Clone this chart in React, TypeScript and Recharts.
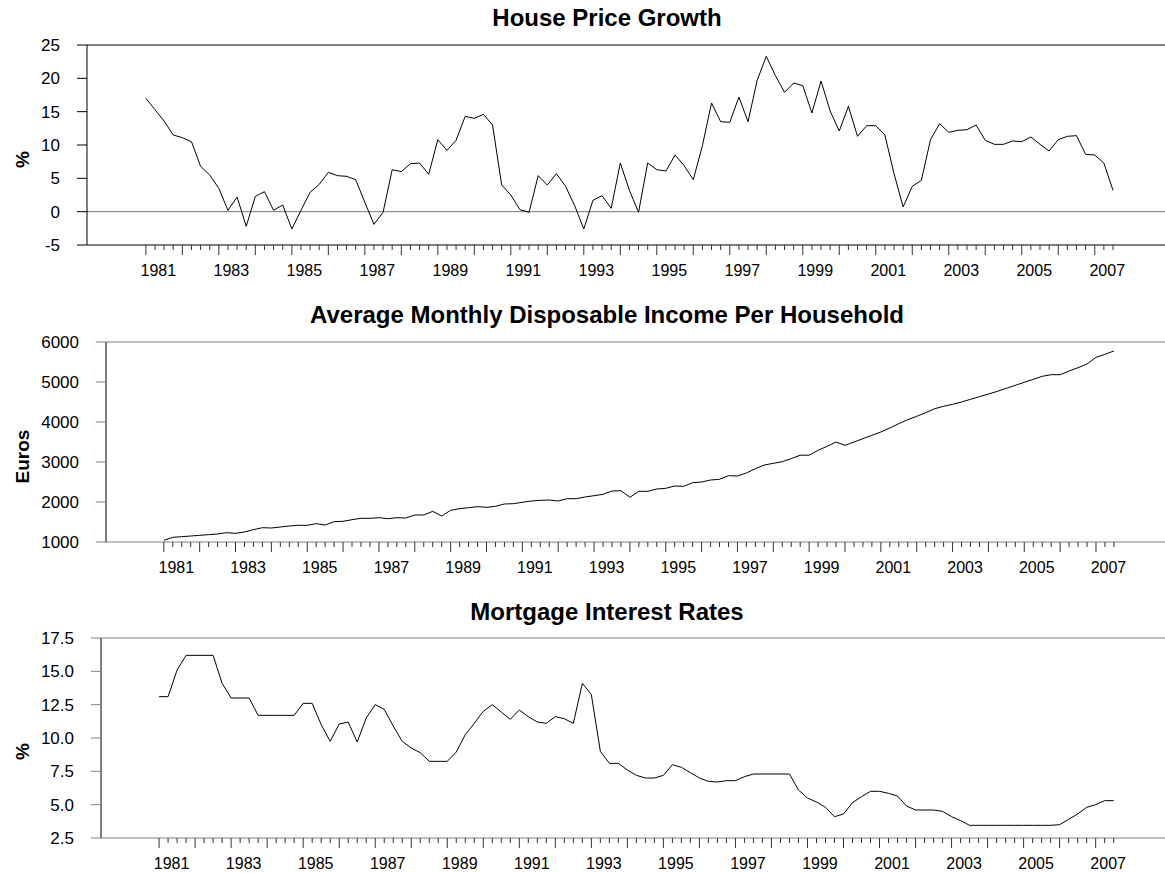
import { LineChart, Line, XAxis, YAxis, ReferenceLine } from 'recharts';

const FONT = '"Liberation Sans", Arial, Helvetica, sans-serif';

const firstYear = 1981;
const yearLabels = ['1981', '1983', '1985', '1987', '1989', '1991', '1993', '1995', '1997', '1999', '2001', '2003', '2005', '2007'];

// quarterly, 1981Q1 .. 2007Q3
const housePriceGrowth = [
  17.0, 15.3, 13.6, 11.5, 11.1, 10.5, 6.8, 5.5, 3.5, 0.2,
  2.2, -2.2, 2.3, 3.0, 0.2, 1.0, -2.6, 0.2, 2.9, 4.1,
  5.9, 5.4, 5.3, 4.8, 1.4, -1.9, -0.1, 6.3, 6.0, 7.2,
  7.3, 5.6, 10.8, 9.2, 10.7, 14.3, 14.0, 14.6, 13.0, 4.0,
  2.5, 0.3, -0.1, 5.4, 4.0, 5.7, 3.8, 0.9, -2.6, 1.7,
  2.4, 0.5, 7.3, 3.2, -0.1, 7.3, 6.3, 6.1, 8.5, 6.9,
  4.8, 9.9, 16.3, 13.5, 13.4, 17.2, 13.5, 19.7, 23.3, 20.4,
  17.9, 19.3, 18.9, 14.8, 19.6, 15.1, 12.1, 15.8, 11.3, 12.9,
  12.9, 11.5, 5.7, 0.7, 3.8, 4.7, 10.8, 13.2, 11.9, 12.2,
  12.3, 13.0, 10.7, 10.1, 10.1, 10.6, 10.5, 11.2, 10.1, 9.1,
  10.8, 11.3, 11.4, 8.6, 8.5, 7.3, 3.2,
];

const disposableIncome = [
  1042, 1117, 1133, 1150, 1167, 1183, 1200, 1233, 1217, 1250,
  1308, 1358, 1350, 1375, 1400, 1417, 1417, 1458, 1425, 1508,
  1517, 1558, 1592, 1592, 1608, 1583, 1608, 1600, 1675, 1675,
  1767, 1650, 1792, 1833, 1858, 1883, 1867, 1892, 1950, 1958,
  1992, 2025, 2042, 2050, 2025, 2083, 2083, 2125, 2158, 2192,
  2275, 2283, 2117, 2267, 2267, 2325, 2342, 2400, 2392, 2483,
  2500, 2550, 2567, 2658, 2650, 2725, 2833, 2925, 2967, 3008,
  3085, 3170, 3170, 3292, 3392, 3500, 3417, 3500, 3583, 3667,
  3750, 3850, 3958, 4058, 4142, 4233, 4333, 4392, 4442, 4500,
  4567, 4633, 4700, 4767, 4842, 4917, 4992, 5067, 5142, 5183,
  5183, 5275, 5358, 5450, 5617, 5692, 5775,
];

const mortgageRates = [
  13.1, 13.1, 15.1, 16.2, 16.2, 16.2, 16.2, 14.1, 13.0, 13.0,
  13.0, 11.7, 11.7, 11.7, 11.7, 11.7, 12.6, 12.6, 11.0, 9.75,
  11.05, 11.2, 9.7, 11.5, 12.5, 12.15, 10.9, 9.75, 9.25, 8.9,
  8.25, 8.25, 8.25, 8.95, 10.25, 11.1, 12.0, 12.5, 11.95, 11.4,
  12.1, 11.6, 11.2, 11.1, 11.6, 11.45, 11.1, 14.1, 13.25, 9.0,
  8.1, 8.1, 7.6, 7.2, 7.0, 7.0, 7.2, 8.0, 7.8, 7.4,
  7.0, 6.75, 6.7, 6.8, 6.8, 7.1, 7.3, 7.3, 7.3, 7.3,
  7.3, 6.1, 5.5, 5.2, 4.8, 4.1, 4.3, 5.15, 5.6, 6.0,
  6.0, 5.85, 5.65, 4.9, 4.6, 4.6, 4.6, 4.5, 4.1, 3.8,
  3.45, 3.45, 3.45, 3.45, 3.45, 3.45, 3.45, 3.45, 3.45, 3.45,
  3.5, 3.9, 4.3, 4.8, 5.0, 5.3, 5.3,
];

const hpgTicks = [-5, 0, 5, 10, 15, 20, 25];
const incomeTicks = [1000, 2000, 3000, 4000, 5000, 6000];
const rateTicks = [2.5, 5, 7.5, 10, 12.5, 15, 17.5];

const quarters = housePriceGrowth.map((_, i) => `${firstYear + Math.floor(i / 4)}Q${(i % 4) + 1}`);

const data = quarters.map((q, i) => ({
  i,
  q,
  hpg: housePriceGrowth[i],
  inc: disposableIncome[i],
  mir: mortgageRates[i],
}));
const xTicks = data.map((d) => d.i);

function QuarterTick(props: any) {
  const { x, y, payload } = props;
  const i = payload.value;
  const major = i % 4 === 0;
  const label = i % 8 === 0 ? yearLabels[i / 8] : null;
  return (
    <g>
      <line x1={x} x2={x} y1={y} y2={y + (major ? 10 : 5)} stroke="#333" />
      {label && (
        <text x={x + 12.5} y={y + 31} textAnchor="middle" fontSize={16} fontFamily={FONT} fill="#000">
          {label}
        </text>
      )}
    </g>
  );
}

interface PanelProps {
  top: number;
  left: number;
  dataKey: string;
  domain: [number, number];
  ticks: number[];
  frame: string;
  fmt?: (v: number) => string;
  zero?: boolean;
}

function Panel({ top, left, dataKey, domain, ticks, frame, fmt, zero }: PanelProps) {
  return (
    <div style={{ position: 'absolute', top: top - 10, left: 0 }}>
      <LineChart width={1165} height={250} data={data} margin={{ top: 10, right: 0, bottom: 0, left: 0 }}>
        <XAxis
          type="number"
          dataKey="i"
          domain={[-6.45, 111.7]}
          ticks={xTicks}
          interval={0}
          tick={(p: any) => <QuarterTick {...p} />}
          tickLine={false}
          tickSize={0}
          tickMargin={0}
          height={40}
          axisLine={{ stroke: frame }}
          allowDataOverflow
        />
        <YAxis
          width={left}
          domain={domain}
          ticks={ticks}
          interval={0}
          tickSize={10}
          tickMargin={17}
          tick={{ fontSize: 17, fill: '#000', fontFamily: FONT }}
          tickFormatter={fmt}
          axisLine={{ stroke: '#000' }}
          tickLine={{ stroke: frame }}
          allowDataOverflow
        />
        <ReferenceLine y={domain[1]} stroke={frame} />
        {zero && <ReferenceLine y={0} stroke="#777" />}
        <Line
          type="linear"
          dataKey={dataKey}
          stroke="#000"
          strokeWidth={1}
          dot={false}
          isAnimationActive={false}
        />
      </LineChart>
    </div>
  );
}

const titleStyle = (top: number): React.CSSProperties => ({
  position: 'absolute',
  top,
  left: 0,
  width: 1214,
  textAlign: 'center',
  fontSize: 24,
  lineHeight: '24px',
  fontWeight: 'bold',
  fontFamily: FONT,
});

const axisLabel = (cy: number): React.CSSProperties => ({
  position: 'absolute',
  left: 21.7 - 50,
  top: cy - 9.5,
  width: 100,
  height: 19,
  textAlign: 'center',
  fontSize: 19,
  lineHeight: '19px',
  fontWeight: 'bold',
  fontFamily: FONT,
  transform: 'rotate(-90deg)',
});

export default function App() {
  return (
    <div style={{ position: 'absolute', left: 0, top: 0, width: 1165, height: 873, background: '#fff', overflow: 'hidden' }}>
      <div style={titleStyle(6.4)}>House Price Growth</div>
      <div style={titleStyle(303)}>Average Monthly Disposable Income Per Household</div>
      <div style={titleStyle(599.7)}>Mortgage Interest Rates</div>

      <div style={axisLabel(159)}>%</div>
      <div style={axisLabel(456.7)}>Euros</div>
      <div style={axisLabel(751.7)}>%</div>

      <Panel top={45} left={87} dataKey="hpg" domain={[-5, 25]} ticks={hpgTicks} frame="#000" zero />
      <Panel top={342} left={106} dataKey="inc" domain={[1000, 6000]} ticks={incomeTicks} frame="#808080" />
      <Panel
        top={638}
        left={101}
        dataKey="mir"
        domain={[2.5, 17.5]}
        ticks={rateTicks}
        frame="#808080"
        fmt={(v: number) => v.toFixed(1)}
      />
    </div>
  );
}
